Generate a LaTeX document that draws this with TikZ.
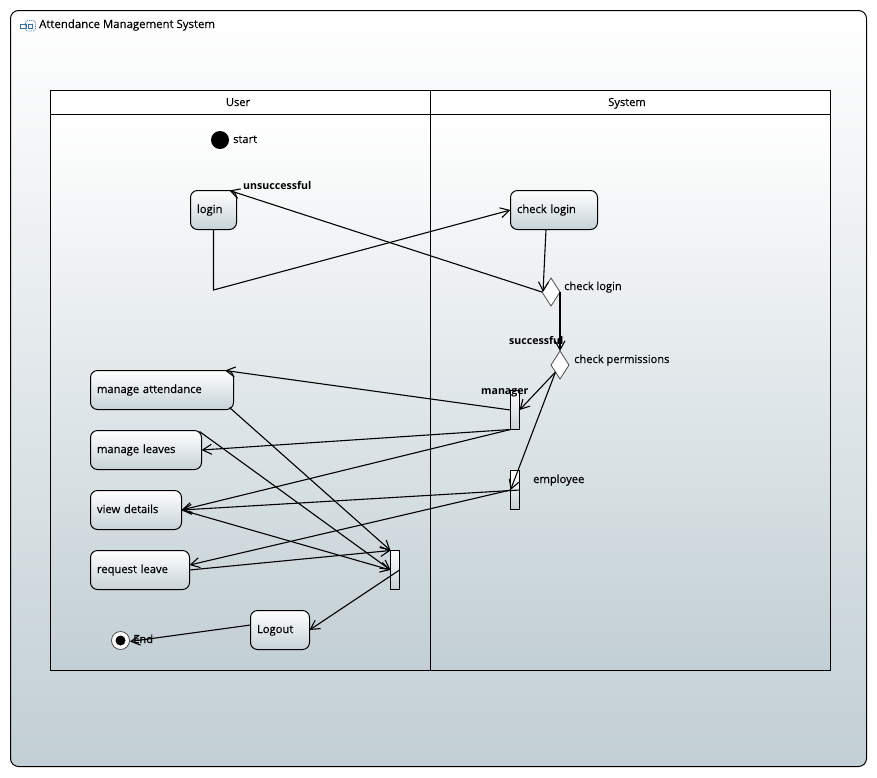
\documentclass[tikz,border=0pt]{standalone}
\usepackage{fontspec}
\setmainfont[FakeBold=0.2]{Open Sans}
\newfontfamily\medf[FakeBold=0.4]{Open Sans}
\newfontfamily\boldf{Open Sans}
\usetikzlibrary{arrows.meta,calc,shapes.geometric}
\definecolor{bgbot}{HTML}{C2CFD4}
\definecolor{boxbot}{HTML}{C6D2D7}
\definecolor{iconblue}{HTML}{3B6EA5}
\tikzset{
  x=1pt,y=-1pt,
  conn/.style={draw=black,line width=1.1pt,-{Straight Barb[length=9pt,width=10pt,line width=1.1pt]}},
  actbox/.style={draw=black,line width=1pt,outer sep=0pt,rounded corners=7pt,top color=white,bottom color=boxbot,minimum height=39pt,text width=#1,inner xsep=6.5pt,inner ysep=0pt,text height=8pt,text depth=2pt,align=left,anchor=north west,font=\fontsize{11.2}{13}\selectfont\medf},
  barbox/.style={draw=black,line width=1pt,outer sep=0pt,top color=white,bottom color=boxbot,minimum width=9pt,minimum height=39pt,inner sep=0pt,anchor=north west},
  choice/.style={diamond,draw=black!70,line width=.8pt,outer sep=0pt,fill=white,aspect=.643,minimum width=18pt,minimum height=28pt,inner sep=0pt},
  txt/.style={anchor=base west,inner sep=0pt,font=\fontsize{11.1}{13}\selectfont},
  mtxt/.style={anchor=base west,inner sep=0pt,font=\fontsize{11.2}{13}\selectfont\medf},
  btxt/.style={anchor=base west,inner sep=0pt,font=\fontsize{10.6}{13}\selectfont\boldf\bfseries},
}
\begin{document}
\begin{tikzpicture}
\useasboundingbox (0,0) rectangle (877,777);
\fill[white] (0,0) rectangle (877,777);
% frame
\draw[black,line width=1pt,rounded corners=8pt,top color=white,bottom color=bgbot] (10.5,10.5) rectangle (866.5,766.5);
% icon
\draw[iconblue,line width=.7pt] (20.5,24.5) rectangle (26,28.5);
\draw[iconblue,line width=.8pt,densely dotted,rounded corners=2.5pt] (25.5,20.5) rectangle (35.5,31);
\draw[iconblue,line width=.7pt] (28,24) rectangle (32.5,28);
\node[txt,font=\fontsize{11.4}{13}\selectfont] (title) at (39,28) {Attendance Management System};
% lanes
\path[top color=white,bottom color=bgbot] (50.5,114.5) rectangle (830.5,670.5);
\draw[black,line width=1pt,fill=white] (50.5,90.5) rectangle (830.5,114.5);
\draw[black,line width=1pt] (50.5,114.5) rectangle (830.5,670.5);
\draw[black,line width=1pt] (430.5,90.5) -- (430.5,670.5);
\node[txt,anchor=base] (lanea) at (238,106) {User};
\node[txt,anchor=base] (laneb) at (627,106) {System};
% nodes
\node[circle,fill=black,inner sep=0pt,minimum size=18pt] (start) at (220,140) {};
\node[txt] (startl) at (233,143) {start};
\node[actbox=33pt] (login) at (190.5,190.5) {login};
\node[actbox=74pt] (checkb) at (510.5,190.5) {check login};
\node[choice] (d1) at (551,292) {};
\node[txt] (d1l) at (564,290) {check login};
\node[choice] (d2) at (560,365) {};
\node[txt] (d2l) at (574,363) {check permissions};
\node[barbox] (mgr) at (510.5,390.5) {};
\node[barbox] (emp) at (510.5,470.5) {};
\node[barbox] (jn) at (390.5,550.5) {};
\node[actbox=130pt] (att) at (90.5,370.5) {manage attendance};
\node[actbox=98pt] (lv) at (90.5,430.5) {manage leaves};
\node[actbox=78pt] (vd) at (90.5,490.5) {view details};
\node[actbox=86pt] (rq) at (90.5,550.5) {request leave};
\node[actbox=46pt] (lo) at (250.5,610.5) {Logout};
\node[circle,draw=black!70,line width=.8pt,fill=white,inner sep=0pt,minimum size=18pt] (endo) at (120.5,640.5) {};
\node[circle,fill=black,inner sep=0pt,minimum size=10pt] (endi) at (120.5,640.5) {};
\node[mtxt] (endl) at (133,643) {End};
% connectors
\coordinate (bend) at (213.5,290);
\draw[conn] (login.south) -- (bend) -- (checkb.west);
\draw[conn] ($(checkb.south)+(-8,0)$) -- ($(d1.west)+(1,0)$);
\draw[conn] (d1.west) -- ($(login.north)+(16,0)$);
\draw[conn] (d1.east) -- (d2.north);
\draw[conn] (d2.south west) -- (mgr.east);
\draw[conn] (d2.south west) -- (emp.west);
\draw[conn] (mgr.west) -- ($(att.north)+(63,0)$);
\draw[conn] (mgr.south west) -- (lv.east);
\draw[conn] (mgr.south west) -- (vd.east);
\draw[conn] (emp.east) -- (vd.east);
\draw[conn] (emp.west) -- ($(rq.east)+(0,-5)$);
\draw[conn] ($(att.south east)+(-4,-2)$) -- (jn.north west);
\draw[conn] ($(lv.north east)+(-2,1)$) -- (jn.west);
\draw[conn] (vd.east) -- (jn.west);
\draw[conn] (rq.east) -- (jn.north west);
\draw[conn] (jn.east) -- (lo.east);
\draw[conn] ($(lo.west)+(0,-5)$) -- ($(endo.east)+(0,1)$);
% edge labels
\node[btxt] (unl) at (243,189) {unsuccessful};
\node[btxt] (sul) at (509,344) {successful};
\node[btxt] (mal) at (481,394) {manager};
\node[mtxt] (eml) at (533,483) {employee};
\end{tikzpicture}
\end{document}
